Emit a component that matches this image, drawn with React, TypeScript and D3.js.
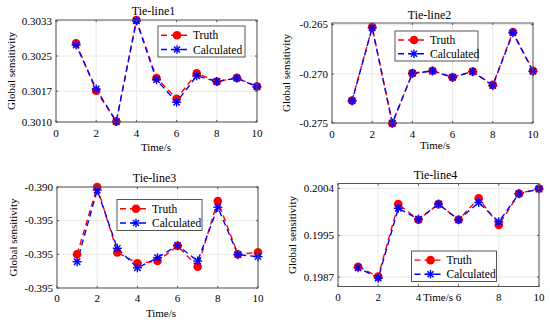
import React from "react";
import * as d3 from "d3";

const times = [1, 2, 3, 4, 5, 6, 7, 8, 9, 10];
const xTicks = [0, 2, 4, 6, 8, 10];

const truth1 = [0.30279, 0.30171, 0.30101, 0.30332, 0.302, 0.30153, 0.30211, 0.30192, 0.302, 0.30181];
const calc1 = [0.30275, 0.30175, 0.30101, 0.3033, 0.30196, 0.30145, 0.30205, 0.30192, 0.302, 0.3018];
const yTicks1 = [0.301, 0.3017, 0.3025, 0.3033];
const yLabels1 = ["0.3010", "0.3017", "0.3025", "0.3033"];

const truth2 = [-0.27272, -0.26524, -0.27503, -0.26993, -0.26969, -0.27034, -0.26976, -0.27112, -0.26575, -0.26969];
const calc2 = [-0.27275, -0.26532, -0.27503, -0.26995, -0.26972, -0.27036, -0.26978, -0.2712, -0.26583, -0.26975];
const yTicks2 = [-0.275, -0.27, -0.265];
const yLabels2 = ["-0.275", "-0.270", "-0.265"];

const truth3 = [-0.39666, -0.39, -0.39647, -0.39756, -0.39733, -0.39584, -0.3979, -0.39139, -0.39666, -0.39647];
const calc3 = [-0.3974, -0.3903, -0.39607, -0.398, -0.397, -0.39578, -0.39733, -0.392, -0.3967, -0.3969];
const yTicks3 = [-0.4, -0.39667, -0.39333, -0.39];
const yLabels3 = ["-0.395", "-0.395", "-0.395", "-0.390"];

const truth4 = [0.1989, 0.19871, 0.2001, 0.1998, 0.2001, 0.1998, 0.20021, 0.1997, 0.2003, 0.2004];
const calc4 = [0.19888, 0.19868, 0.20002, 0.19981, 0.2001, 0.1998, 0.20013, 0.19976, 0.2003, 0.20039];
const yTicks4 = [0.1987, 0.1995, 0.2004];
const yLabels4 = ["0.1987", "0.1995", "0.2004"];

const titles = ["Tie-line1", "Tie-line2", "Tie-line3", "Tie-line4"];
const legendNames = ["Truth", "Calculated"];

const FONT = "Liberation Serif";
const RED = "#ff0000";
const BLUE = "#0000ff";

type PanelCfg = {
  title: string;
  truth: number[];
  calc: number[];
  yTicks: number[];
  yLabels: string[];
  yDomain: [number, number];
  box: { x0: number; x1: number; y0: number; y1: number };
  titleY: number;
  tickLabelY: number;
  xLabel: { x: number; y: number };
  yLabelX: number;
  legend: { x: number; y: number; w: number; h: number };
};

function Star({ cx, cy, r, color, sw }: { cx: number; cy: number; r: number; color: string; sw: number }) {
  const d = r * 0.7071;
  return (
    <g stroke={color} strokeWidth={sw} strokeLinecap="butt">
      <line x1={cx - r} y1={cy} x2={cx + r} y2={cy} />
      <line x1={cx} y1={cy - r} x2={cx} y2={cy + r} />
      <line x1={cx - d} y1={cy - d} x2={cx + d} y2={cy + d} />
      <line x1={cx - d} y1={cy + d} x2={cx + d} y2={cy - d} />
    </g>
  );
}

function Panel({ cfg }: { cfg: PanelCfg }) {
  const { box } = cfg;
  const x = d3.scaleLinear().domain([0, 10]).range([box.x0, box.x1]);
  const y = d3.scaleLinear().domain(cfg.yDomain).range([box.y1, box.y0]);
  const line = d3
    .line<number>()
    .x((_, i) => x(times[i]))
    .y((v) => y(v));
  const lg = cfg.legend;
  const row1 = lg.y + lg.h * 0.3;
  const row2 = lg.y + lg.h * 0.76;
  const ts = { fontFamily: FONT } as React.CSSProperties;
  return (
    <g fill="#000">
      {xTicks.map((t) => (
        <line key={"gx" + t} x1={x(t)} x2={x(t)} y1={box.y0} y2={box.y1} stroke="#e3e3e3" strokeWidth={0.8} />
      ))}
      {cfg.yTicks.map((t, i) => (
        <line key={"gy" + i} x1={box.x0} x2={box.x1} y1={y(t)} y2={y(t)} stroke="#e3e3e3" strokeWidth={0.8} />
      ))}
      <path d={line(cfg.truth) || ""} fill="none" stroke={RED} strokeWidth={1.4} strokeDasharray="6,4" />
      <path d={line(cfg.calc) || ""} fill="none" stroke={BLUE} strokeWidth={1.4} strokeDasharray="6,4" strokeDashoffset={3} />
      {cfg.truth.map((v, i) => (
        <circle key={"c" + i} cx={x(times[i])} cy={y(v)} r={4.3} fill={RED} />
      ))}
      {cfg.calc.map((v, i) => (
        <Star key={"s" + i} cx={x(times[i])} cy={y(v)} r={4.5} color={BLUE} sw={1.4} />
      ))}
      <rect x={box.x0} y={box.y0} width={box.x1 - box.x0} height={box.y1 - box.y0} fill="none" stroke="#555" strokeWidth={1} />
      {xTicks.map((t) => (
        <g key={"tx" + t}>
          <line x1={x(t)} x2={x(t)} y1={box.y1} y2={box.y1 - 2} stroke="#555" />
          <line x1={x(t)} x2={x(t)} y1={box.y0} y2={box.y0 + 2} stroke="#555" />
          <text style={ts} x={x(t)} y={cfg.tickLabelY} fontSize={11} textAnchor="middle">
            {t}
          </text>
        </g>
      ))}
      {cfg.yTicks.map((t, i) => (
        <g key={"ty" + i}>
          <line x1={box.x0} x2={box.x0 + 2} y1={y(t)} y2={y(t)} stroke="#555" />
          <line x1={box.x1} x2={box.x1 - 2} y1={y(t)} y2={y(t)} stroke="#555" />
          <text style={ts} x={box.x0 - 4} y={y(t) + 3.8} fontSize={11} textAnchor="end">
            {cfg.yLabels[i]}
          </text>
        </g>
      ))}
      <text style={ts} x={(box.x0 + box.x1) / 2 - 3} y={cfg.titleY} fontSize={12} textAnchor="middle">
        {cfg.title}
      </text>
      <text style={ts} x={cfg.xLabel.x} y={cfg.xLabel.y} fontSize={11} textAnchor="middle">
        Time/s
      </text>
      <text
        style={ts}
        transform={`translate(${cfg.yLabelX},${(box.y0 + box.y1) / 2}) rotate(-90)`}
        fontSize={11}
        textAnchor="middle"
      >
        Global sensitivity
      </text>
      <rect x={lg.x} y={lg.y} width={lg.w} height={lg.h} fill="#fff" stroke="#444" strokeWidth={0.9} />
      <line x1={lg.x + 3} x2={lg.x + 32} y1={row1} y2={row1} stroke={RED} strokeWidth={1.4} strokeDasharray="6,4" />
      <circle cx={lg.x + 19} cy={row1} r={4.3} fill={RED} />
      <text style={ts} x={lg.x + 35} y={row1 + 4} fontSize={11.5}>
        {legendNames[0]}
      </text>
      <line x1={lg.x + 3} x2={lg.x + 32} y1={row2} y2={row2} stroke={BLUE} strokeWidth={1.4} strokeDasharray="6,4" />
      <Star cx={lg.x + 19} cy={row2} r={4.3} color={BLUE} sw={1.4} />
      <text style={ts} x={lg.x + 35} y={row2 + 4} fontSize={11.5}>
        {legendNames[1]}
      </text>
    </g>
  );
}

const panels: PanelCfg[] = [
  {
    title: titles[0],
    truth: truth1,
    calc: calc1,
    yTicks: yTicks1,
    yLabels: yLabels1,
    yDomain: [0.301, 0.30332],
    box: { x0: 56, x1: 257, y0: 20, y1: 122 },
    titleY: 15,
    tickLabelY: 137,
    xLabel: { x: 156, y: 151 },
    yLabelX: 15,
    legend: { x: 158, y: 26, w: 87, h: 31 },
  },
  {
    title: titles[1],
    truth: truth2,
    calc: calc2,
    yTicks: yTicks2,
    yLabels: yLabels2,
    yDomain: [-0.275, -0.26483],
    box: { x0: 332, x1: 533, y0: 23, y1: 123 },
    titleY: 19,
    tickLabelY: 138,
    xLabel: { x: 435, y: 148.5 },
    yLabelX: 290,
    legend: { x: 395, y: 31, w: 83, h: 30 },
  },
  {
    title: titles[2],
    truth: truth3,
    calc: calc3,
    yTicks: yTicks3,
    yLabels: yLabels3,
    yDomain: [-0.4, -0.39],
    box: { x0: 57, x1: 258, y0: 187, y1: 288 },
    titleY: 182,
    tickLabelY: 301.5,
    xLabel: { x: 161, y: 316.5 },
    yLabelX: 17,
    legend: { x: 117, y: 199.5, w: 85, h: 31 },
  },
  {
    title: titles[3],
    truth: truth4,
    calc: calc4,
    yTicks: yTicks4,
    yLabels: yLabels4,
    yDomain: [0.19852, 0.200495],
    box: { x0: 338, x1: 539, y0: 183.5, y1: 286.5 },
    titleY: 179,
    tickLabelY: 301,
    xLabel: { x: 438, y: 301 },
    yLabelX: 296,
    legend: { x: 411.5, y: 251, w: 85, h: 30.5 },
  },
];

export default function App() {
  return (
    <svg
      width={550}
      height={323}
      style={{ position: "absolute", left: 0, top: 0, background: "#fff" }}
    >
      <rect x={0} y={0} width={550} height={323} fill="#fff" />
      {panels.map((p, i) => (
        <Panel key={i} cfg={p} />
      ))}
    </svg>
  );
}
